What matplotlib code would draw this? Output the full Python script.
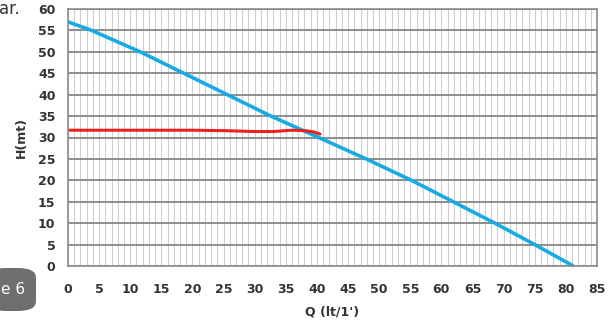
import matplotlib.pyplot as plt
from matplotlib.patches import FancyBboxPatch

# pump curve (blue) and measured curve (red)
q_pump = [0, 3.8, 11.6, 18.6, 25.6, 32.6, 40.3, 47.9, 55.2, 61.9, 68.6, 75.0, 81.2]
h_pump = [57, 55, 50, 45, 40, 35, 30, 25, 20, 15, 10, 5, 0]

q_meas = [0, 10, 20, 25, 30, 33, 36, 38, 39.5, 40.5]
h_meas = [31.7, 31.7, 31.7, 31.6, 31.4, 31.4, 31.7, 31.6, 31.3, 30.8]

x_ticks = list(range(0, 90, 5))
y_ticks = list(range(0, 65, 5))

W, H = 612, 320
fig = plt.figure(figsize=(W / 100, H / 100), dpi=100)
ax = fig.add_axes([68 / W, (H - 266) / H, (597 - 68) / W, (266 - 9) / H])

ax.set_xlim(0, 85)
ax.set_ylim(0, 60)
ax.set_xticks(x_ticks)
ax.set_yticks(y_ticks)
ax.set_xticks(range(0, 86), minor=True)

ax.grid(True, which='minor', axis='x', color='#cfcfcf', linewidth=0.8)
ax.grid(True, which='major', axis='x', color='#cfcfcf', linewidth=0.8)
ax.grid(True, which='major', axis='y', color='#858585', linewidth=1.3)
ax.set_axisbelow(True)
for s in ax.spines.values():
    s.set_color('#8c8c8c')
    s.set_linewidth(1.2)

ax.tick_params(which='both', length=0)
ax.tick_params(axis='x', pad=12, labelsize=9, labelcolor='#333333')
ax.tick_params(axis='y', pad=9, labelsize=9, labelcolor='#333333')
for lab in ax.get_xticklabels() + ax.get_yticklabels():
    lab.set_fontweight('bold')

ax.plot(q_pump, h_pump, color='#17abe6', linewidth=2.6, solid_capstyle='butt', clip_on=False)
ax.plot(q_meas, h_meas, color='#e8231f', linewidth=2.2, solid_capstyle='round')

ax.set_xlabel("Q (lt/1')", fontsize=9, fontweight='bold', color='#333333', labelpad=7)
ax.set_ylabel("H(mt)", fontsize=9, fontweight='bold', color='#333333', labelpad=7)

# fragments of the surrounding page
fig.text(-0.002, 1 - 9 / H, "ar.", fontsize=12, color='#333333', va='center', ha='left')
box = FancyBboxPatch((-12 / W, (H - 311) / H), 48 / W, 43 / H,
                     boxstyle='round,pad=0,rounding_size=0.03', transform=fig.transFigure,
                     facecolor='#6e6f71', edgecolor='none')
fig.patches.append(box)
fig.text(1 / W, 1 - 290 / H, "e 6", fontsize=11, color='white', va='center', ha='left')

fig.savefig('out.png', dpi=100)
